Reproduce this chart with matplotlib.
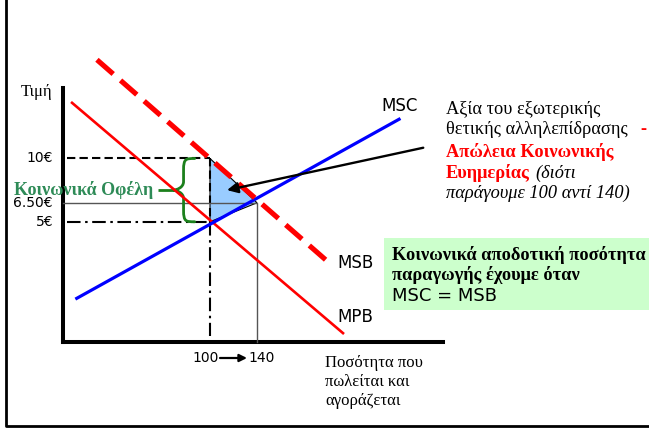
import matplotlib
matplotlib.use("Agg")
import matplotlib.pyplot as plt
from matplotlib.path import Path
from matplotlib.patches import PathPatch, Polygon, Rectangle
from matplotlib.lines import Line2D

W, H, DPI = 649, 428, 100
SERIF = "Liberation Serif"
SANS = "DejaVu Sans"

# Price levels (€) shown on the vertical axis
price_ticks = [10, 6.5, 5]
price_labels = ["10€", "6.50€", "5€"]

# Quantities: market outcome and socially efficient outcome
q_market = 100
q_efficient = 140
quantity_labels = ["100", "140"]

# Prices at the two quantities
p_msb_market = 10      # social benefit at the market quantity
p_mpb_market = 5       # private benefit (= MSC) at the market quantity
p_efficient = 6.5      # price where MSC = MSB

# Curve end points as (quantity, price)
mpb_q, mpb_p = [-17.4, 213.2], [14.4, -3.8]
msb_q, msb_p = [3.8, 199.6], [17.8, 1.9]
msc_q, msc_p = [-13.4, 260.9], [-1.05, 13.1]

fig = plt.figure(figsize=(W / DPI, H / DPI), dpi=DPI)
fig.patch.set_facecolor("white")


def fx(px):
    return px / W


def fy(py):
    return 1 - py / H


ax = fig.add_axes([fx(63), fy(342), 380 / W, 254 / H])
ax.set_xlim(-25.1, 298.3)
ax.set_ylim(-4.5, 15.57)
ax.set_facecolor("none")
for s in ["top", "right"]:
    ax.spines[s].set_visible(False)
for s in ["left", "bottom"]:
    ax.spines[s].set_linewidth(2.9)
    ax.spines[s].set_color("black")
    ax.spines[s].set_capstyle("projecting")
ax.set_xticks([])
ax.set_yticks([])

x0 = -22  # reference lines start just right of the price axis
ymin = ax.get_ylim()[0]

# Deadweight-loss triangle
tri = Polygon([(q_market, p_msb_market), (q_market, p_mpb_market),
               (q_efficient, p_efficient)], closed=True,
              facecolor="#99ccff", edgecolor="black", lw=0.8, zorder=2)
ax.add_patch(tri)

# Guide lines
dash = (0, (4, 2))
dashdot = (0, (6.5, 2.2, 1.2, 2.2))
ax.plot([x0, q_market], [p_msb_market, p_msb_market], color="black", lw=1.5,
        ls=dash, zorder=3)
ax.plot([q_market, q_market], [p_msb_market, p_mpb_market], color="black",
        lw=1.5, ls=dash, zorder=3)
ax.plot([x0, q_market], [p_mpb_market, p_mpb_market], color="black", lw=1.5,
        ls=dashdot, zorder=3)
ax.plot([q_market, q_market], [p_mpb_market, -4.0], color="black", lw=1.5,
        ls=dashdot, zorder=3)
ax.plot([ax.get_xlim()[0], q_efficient, q_efficient],
        [p_efficient, p_efficient, ymin], color="#555555", lw=1.0, zorder=3,
        clip_on=False)

# Curves
ax.plot(mpb_q, mpb_p, color="#ff0000", lw=1.9, zorder=4, clip_on=False)
ax.plot(msc_q, msc_p, color="#0000ff", lw=2.3, zorder=4, clip_on=False)
ax.plot(msb_q, msb_p, color="#ff0000", lw=3.7, ls=(0, (4.2, 1.9)),
        zorder=5, clip_on=False)

# Curve names
fig.text(fx(381), fy(106), "MSC", family=SANS, fontsize=12, va="center")
fig.text(fx(337), fy(263), "MSB", family=SANS, fontsize=12, va="center")
fig.text(fx(337), fy(317), "MPB", family=SANS, fontsize=12, va="center")

# Price axis labels
for p, lab in zip(price_ticks, price_labels):
    ax.annotate(lab, xy=(0, p), xycoords=("axes fraction", "data"),
                xytext=(-10, 0), textcoords="offset pixels", ha="right",
                va="center", family=SANS, fontsize=10, annotation_clip=False)
fig.text(fx(21), fy(92), "Τιμή", family=SERIF, fontsize=12, va="center")

# Quantity labels with arrow
ax.annotate(quantity_labels[0], xy=(q_market, 0),
            xycoords=("data", "axes fraction"), xytext=(9, -16),
            textcoords="offset pixels", ha="right", va="center",
            family=SANS, fontsize=10, annotation_clip=False)
ax.annotate(quantity_labels[1], xy=(q_efficient, 0),
            xycoords=("data", "axes fraction"), xytext=(-9, -16),
            textcoords="offset pixels", ha="left", va="center",
            family=SANS, fontsize=10, annotation_clip=False)
ax.annotate("", xy=(fx(247), fy(358)), xycoords="figure fraction",
            xytext=(fx(220), fy(358)), textcoords="figure fraction",
            arrowprops=dict(arrowstyle="-|>", color="black", lw=1.6,
                            mutation_scale=11, shrinkA=0, shrinkB=0))
for i, line in enumerate(["Ποσότητα που", "πωλείται και", "αγοράζεται"]):
    fig.text(fx(325), fy(363 + 19.2 * i), line, family=SERIF, fontsize=12,
             va="center")

# Brace marking the external benefit between MPB and MSB
p_top, p_bot = p_msb_market, p_mpb_market
p_mid = (p_top + p_bot) / 2
q_end, q_spine, q_tip = 87.0, 77.5, 68.5
r = 0.45
verts = [
    (q_end, p_top),
    (q_spine + 2, p_top), (q_spine, p_top), (q_spine, p_top - r * 2),
    (q_spine, p_mid + r * 1.5),
    (q_spine, p_mid + 0.2), (q_tip + 3, p_mid), (q_tip, p_mid),
    (q_tip + 3, p_mid), (q_spine, p_mid - 0.2), (q_spine, p_mid - r * 1.5),
    (q_spine, p_bot + r * 2),
    (q_spine, p_bot), (q_spine + 2, p_bot), (q_end, p_bot),
]
codes = [Path.MOVETO,
         Path.CURVE4, Path.CURVE4, Path.CURVE4,
         Path.LINETO,
         Path.CURVE4, Path.CURVE4, Path.CURVE4,
         Path.CURVE4, Path.CURVE4, Path.CURVE4,
         Path.LINETO,
         Path.CURVE4, Path.CURVE4, Path.CURVE4]
ax.add_patch(PathPatch(Path(verts, codes), facecolor="none",
                       edgecolor="#1c801c", lw=2.0, zorder=3,
                       clip_on=False, capstyle="round"))
ax.plot([55.5, q_tip], [p_mid, p_mid], color="#1c801c", lw=2.0, zorder=3,
        clip_on=False, solid_capstyle="butt")
ax.text(51.5, p_mid, "Κοινωνικά Οφέλη", family=SERIF, fontweight="bold",
        fontsize=13, color="#2e8b57", ha="right", va="center", zorder=6)

# Arrow from the explanation to the triangle
ax.annotate("", xy=(114.5, 7.5), xytext=(281.5, 10.85),
            arrowprops=dict(arrowstyle="-|>", color="black", lw=1.7,
                            mutation_scale=16, shrinkA=0, shrinkB=0),
            annotation_clip=False, zorder=6)

# Explanation text on the right
FS = 13.2
tx = fx(446)
fig.text(tx, fy(110), "Αξία του εξωτερικής", family=SERIF, fontsize=FS,
         va="center")
fig.text(tx, fy(130), "θετικής αλληλεπίδρασης", family=SERIF, fontsize=FS,
         va="center")
fig.text(fx(640), fy(129), "-", family=SERIF, fontsize=FS, fontweight="bold",
         color="#ff0000", va="center")
fig.text(tx, fy(152), "Απώλεια Κοινωνικής", family=SERIF, fontsize=FS,
         fontweight="bold", color="#ff0000", va="center")
fig.text(tx, fy(173), "Ευημερίας", family=SERIF, fontsize=FS,
         fontweight="bold", color="#ff0000", va="center")
fig.text(fx(535), fy(173), "(διότι", family=SERIF, fontsize=FS,
         style="italic", va="center")
fig.text(tx, fy(193), "παράγουμε 100 αντί 140)", family=SERIF, fontsize=FS,
         style="italic", va="center")

# Efficiency condition box
fig.add_artist(Rectangle((fx(384), fy(310)), (W - 384) / W, 72 / H,
                         transform=fig.transFigure, facecolor="#ccffcc",
                         edgecolor="none", zorder=0))
fig.text(fx(392), fy(255), "Κοινωνικά αποδοτική ποσότητα", family=SERIF,
         fontsize=FS, fontweight="bold", va="center", zorder=2)
fig.text(fx(392), fy(275), "παραγωγής έχουμε όταν", family=SERIF,
         fontsize=FS, fontweight="bold", va="center", zorder=2)
fig.text(fx(392), fy(296), "MSC = MSB", family=SANS, fontsize=13,
         va="center", zorder=2)

# Slide frame (left and bottom edges)
fig.add_artist(Line2D([fx(6), fx(6), fx(W + 5)], [fy(-5), fy(426), fy(426)],
                      transform=fig.transFigure, color="black", lw=2.0))

fig.savefig("out.png", dpi=DPI)
